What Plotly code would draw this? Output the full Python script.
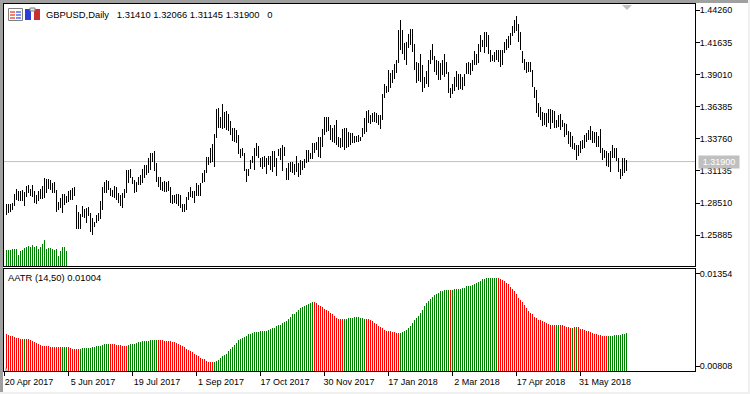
import plotly.graph_objects as go

highs = [
1.2844,1.2844,1.2844,1.2855,1.2926,1.2964,1.2950,1.2950,1.2958,1.2942,
1.2991,1.2996,1.2964,1.2999,1.2950,1.2918,1.2953,1.2964,1.2991,1.3054,
1.3048,1.3048,1.3040,1.3013,1.3026,1.2958,1.2863,1.2890,1.2926,1.2926,
1.2909,1.2950,1.2958,1.2977,1.2986,1.2836,1.2782,1.2763,1.2828,1.2801,
1.2809,1.2822,1.2768,1.2727,1.2700,1.2754,1.2768,1.2871,1.2986,1.3026,
1.3040,1.3035,1.2972,1.2958,1.2991,1.2986,1.2931,1.2918,1.2931,1.2964,
1.3122,1.3122,1.3130,1.3067,1.3040,1.3026,1.3067,1.3081,1.3127,1.3162,
1.3162,1.3217,1.3258,1.3258,1.3277,1.3176,1.3067,1.3062,1.3026,1.3035,
1.3026,1.3035,1.2980,1.2918,1.2918,1.2926,1.2926,1.2918,1.2844,1.2844,
1.2904,1.2945,1.2986,1.2953,1.2953,1.3013,1.2999,1.3013,1.3094,1.3122,
1.3230,1.3230,1.3298,1.3334,1.3413,
1.3620,1.3631,1.3557,1.3661,1.3598,1.3606,1.3579,1.3522,1.3462,1.3467,
1.3448,1.3408,1.3293,1.3304,1.3258,1.3130,1.3130,1.3204,1.3236,1.3299,
1.3340,1.3321,1.3223,1.3231,1.3236,1.3217,1.3236,1.3239,1.3277,1.3280,
1.3223,1.3291,1.3304,1.3326,1.3312,1.3141,1.3176,1.3190,1.3190,1.3171,
1.3236,1.3176,1.3204,1.3198,1.3212,
1.3286,1.3286,1.3264,1.3340,1.3340,1.3348,1.3394,1.3394,1.3457,1.3558,
1.3558,1.3552,1.3490,1.3462,1.3490,1.3530,1.3389,1.3381,1.3457,1.3468,
1.3462,1.3435,1.3422,1.3422,1.3403,1.3403,1.3408,1.3394,1.3462,1.3544,
1.3607,1.3612,1.3571,1.3590,1.3596,1.3590,1.3571,1.3571,1.3746,
1.3822,1.3806,1.3942,1.3915,1.3942,1.3991,1.4023,1.4263,1.4344,1.4263,
1.4159,1.4168,1.4230,1.4276,1.4276,1.4149,1.4004,1.3996,1.4067,1.3977,
1.3882,1.3928,1.4018,1.4105,1.4149,1.4051,1.4018,1.4013,1.3996,1.4018,
1.4072,1.4004,1.3923,1.3795,1.3822,1.3882,1.3928,1.3909,1.3909,1.3882,
1.3909,1.3996,1.4004,1.3996,1.4018,1.4094,1.4072,1.4149,1.4222,1.4181,
1.4249,1.4249,1.4222,1.4100,1.4059,1.4086,1.4100,1.4100,1.4105,1.4105,
1.4168,1.4195,1.4214,1.4241,1.4295,1.4344,1.4380,1.4312,1.4249,1.4094,
1.4032,1.4004,1.4004,1.4004,1.3936,1.3800,1.3779,1.3672,1.3639,1.3598,
1.3590,1.3590,1.3617,1.3620,1.3612,1.3606,1.3530,1.3571,1.3579,1.3530,
1.3503,1.3495,1.3443,1.3435,1.3400,1.3345,1.3326,1.3326,1.3362,1.3367,
1.3408,1.3421,1.3449,1.3481,1.3443,1.3435,1.3435,1.3400,1.3457,1.3299,
1.3285,1.3280,1.3258,1.3277,1.3326,1.3299,1.3304,1.3217,1.3126,1.3217,
1.3217,1.32066,
]
lows = [
1.2754,1.2768,1.2776,1.2795,1.2828,1.2877,1.2871,1.2866,1.2871,1.2828,
1.2904,1.2931,1.2912,1.2904,1.2855,1.2844,1.2871,1.2882,1.2888,1.2890,
1.2931,1.2964,1.2958,1.2931,1.2931,1.2782,1.2795,1.2809,1.2773,1.2836,
1.2855,1.2863,1.2877,1.2877,1.2909,1.2643,1.2643,1.2643,1.2735,1.2727,
1.2686,1.2746,1.2618,1.2591,1.2654,1.2686,1.2708,1.2719,1.2795,1.2931,
1.2931,1.2958,1.2909,1.2904,1.2890,1.2877,1.2855,1.2828,1.2814,1.2890,
1.2931,1.3013,1.3054,1.3007,1.2937,1.2945,1.2999,1.2999,1.3013,1.3054,
1.3081,1.3094,1.3122,1.3184,1.3116,1.3026,1.2986,1.2958,1.2953,1.2945,
1.2939,1.2953,1.2850,1.2844,1.2850,1.2844,1.2828,1.2809,1.2782,1.2782,
1.2795,1.2877,1.2904,1.2890,1.2855,1.2909,1.2912,1.2912,1.3018,1.3026,
1.3100,1.3162,1.3176,1.3190,1.3149,
1.3386,1.3467,1.3462,1.3454,1.3462,1.3448,1.3443,1.3408,1.3361,1.3348,
1.3345,1.3250,1.3217,1.3239,1.3114,1.3027,1.3073,1.3130,1.3182,1.3125,
1.3236,1.3223,1.3147,1.3130,1.3149,1.3092,1.3163,1.3122,1.3108,1.3149,
1.3076,1.3239,1.3204,1.3114,1.3236,1.3040,1.3040,1.3103,1.3095,1.3081,
1.3103,1.3068,1.3081,1.3122,1.3136,
1.3177,1.3190,1.3209,1.3212,1.3258,1.3286,1.3231,1.3223,1.3307,1.3408,
1.3435,1.3443,1.3367,1.3354,1.3340,1.3326,1.3307,1.3299,1.3313,1.3286,
1.3299,1.3307,1.3326,1.3340,1.3340,1.3354,1.3354,1.3362,1.3389,1.3416,
1.3435,1.3503,1.3498,1.3517,1.3517,1.3503,1.3490,1.3457,1.3530,
1.3713,1.3751,1.3760,1.3795,1.3833,1.3868,1.3915,1.3996,1.4100,1.4072,
1.4018,1.3977,1.4121,1.4140,1.4086,1.3942,1.3833,1.3849,1.3841,1.3760,
1.3795,1.3822,1.3800,1.3991,1.4018,1.3923,1.3896,1.3860,1.3855,1.3896,
1.3882,1.3909,1.3751,1.3713,1.3746,1.3768,1.3800,1.3779,1.3787,1.3779,
1.3806,1.3909,1.3909,1.3896,1.3931,1.3977,1.3977,1.3996,1.4086,1.4127,
1.4078,1.4127,1.4067,1.4004,1.4013,1.4004,1.4018,1.4004,1.3964,1.3983,
1.4078,1.4105,1.4121,1.4140,1.4214,1.4241,1.4257,1.4168,1.4100,1.3996,
1.3936,1.3915,1.3923,1.3923,1.3800,1.3713,1.3590,1.3552,1.3530,1.3481,
1.3489,1.3476,1.3503,1.3457,1.3503,1.3462,1.3462,1.3470,1.3449,1.3476,
1.3389,1.3408,1.3334,1.3307,1.3291,1.3285,1.3204,1.3239,1.3258,1.3291,
1.3299,1.3353,1.3367,1.3367,1.3345,1.3340,1.3313,1.3313,1.3258,1.3204,
1.3217,1.3155,1.3149,1.3109,1.3223,1.3217,1.3198,1.3109,1.3051,1.3073,
1.3100,1.31145,
]
tick_volume = [16000,16000,16000,17000,17000,17000,11000,15000,16000,18000,
19000,20000,19000,21000,19000,20000,17000,19000,22000,26000,17000,18000,18000,
17000,16000,17000,10000,15000,19000,19000,15000]

aatr_points = [
996,990,986,984,980,976,974,970,966,966,966,966,963,957,949,943,937,931,929,927,
925,925,923,919,919,919,919,919,919,919,919,919,914,908,908,908,908,910,912,914,
914,916,917,919,923,925,927,929,935,937,937,937,937,937,937,935,933,931,929,927,
925,935,937,937,941,943,947,949,953,955,957,957,961,961,961,961,961,961,961,957,
955,955,953,951,949,945,939,933,927,919,908,902,896,890,880,872,867,857,851,847,
839,833,831,831,833,839,845,855,865,872,882,898,910,921,931,943,961,970,976,982,
988,996,
996,1004,1008,1008,1008,1012,1014,1017,1017,1019,1025,1031,1031,1043,1049,1053,1059,1068,1076,1088,
1098,1112,1117,1127,1141,1151,1159,1162,1168,1174,1182,1184,1184,1178,1166,1162,1155,1147,1139,1133,
1121,1112,1102,1094,1088,1084,1084,1084,1088,1090,1090,1094,1096,1096,1096,1094,1090,1088,1088,1086,
1078,1072,1064,1055,1043,1041,1035,1023,1017,1014,1012,1010,1006,1004,1004,1004,1008,1014,1021,1035,
1047,1062,1078,1094,1106,1121,1137,1161,1182,1192,1204,1215,1225,1235,1241,1251,1253,1255,1255,1255,
1255,1259,1260,1260,1260,1260,1266,1268,1278,1278,1278,1284,1290,1298,1304,1311,1319,1323,1327,1327,
1327,1329,1329,1329,1329,
1323,1317,1309,1298,1290,1276,1264,1251,1235,1211,1198,1186,1168,1153,1133,1121,1112,1098,1090,1082,
1078,1072,1066,1059,1055,1053,1051,1049,1049,1049,1049,1049,1043,1041,1037,1035,1035,1037,1037,1037,
1029,1027,1023,1017,1014,1008,1004,998,996,994,990,988,984,984,984,984,984,990,990,990,
990,996,996,1004,
]
direction_labels = ["down","up","down","up","down","up","down","up","down","up","down","up",
                    "down","up","down","up","down","up","down","up","down","up","down","up"]
run_lengths = [9,1,18,3,6,15,9,15,28,50,15,11,17,25,1,23,29,2,6,1,1,1,15,10]

price_ticks = [1.44260,1.41635,1.39010,1.36385,1.33760,1.31135,1.28510,1.25885]
aatr_ticks = [0.01354,0.00808]
date_tick_index = [-1,31,63,95,127,159,191,223,255,287]
date_labels = ["20 Apr 2017","5 Jun 2017","19 Jul 2017","1 Sep 2017","17 Oct 2017",
               "30 Nov 2017","17 Jan 2018","2 Mar 2018","17 Apr 2018","31 May 2018"]
last_close = 1.31900

assert len(highs) == len(lows) == len(aatr_points), (len(highs), len(lows), len(aatr_points))
assert sum(run_lengths) == len(aatr_points)

FONT = "Liberation Sans"
# A colour with alpha just under 1 keeps plotly from widening 1px bars to 2px.
BLACK = "rgba(0,0,0,0.999)"
GREEN, RED = "rgba(0,128,0,0.999)", "rgba(255,0,0,0.999)"
directions = [d for d, n in zip(direction_labels, run_lengths) for _ in range(n)]
idx = list(range(len(highs)))

L, R, T, B = 4, 695, 4, 371
PW, PH = R - L, B - T
def px(x): return (x - L) / PW
def py(y): return (B - y) / PH

bar_style = dict(width=0.4, offset=0.05)
fig = go.Figure()
fig.add_trace(go.Bar(x=idx[:len(tick_volume)], y=tick_volume, marker=dict(color=GREEN, line_width=0),
                     xaxis="x", yaxis="y3", name="Volume", **bar_style))
fig.add_trace(go.Bar(x=idx, base=lows, y=[h - l for h, l in zip(highs, lows)],
                     marker=dict(color=BLACK, line_width=0), xaxis="x", yaxis="y", name="GBPUSD", **bar_style))
fig.add_trace(go.Bar(x=idx, y=[p * 1e-5 for p in aatr_points],
                     marker=dict(color=[GREEN if d == "up" else RED for d in directions], line_width=0),
                     xaxis="x2", yaxis="y2", name="AATR", **bar_style))

axis_common = dict(showgrid=False, zeroline=False, showline=True, linecolor="#000000", linewidth=1, mirror=True)
def rect(x0, y0, x1, y1, fill, line=None):
    return dict(type="rect", xref="paper", yref="paper", x0=px(x0), x1=px(x1), y0=py(y0), y1=py(y1),
                fillcolor=fill, line=dict(width=1 if line else 0, color=line or fill), layer="above")

shapes = [
    dict(type="line", xref="paper", yref="y", x0=0, x1=1, y0=last_close, y1=last_close,
         line=dict(color="#C0C0C0", width=1), layer="below"),
    rect(0, 0, 750, 3, "#A0A0A0"), rect(0, 0, 3, 394, "#A0A0A0"),
    rect(0, 392, 750, 394, "#F0F0F0"), rect(748, 0, 750, 394, "#F0F0F0"),
    rect(8.5, 8.5, 22.5, 20.5, "#FFFFFF", "#808080"),
    rect(10, 11, 15, 13, "#F08070"), rect(16, 11, 21, 13, "#8090F0"),
    rect(10, 14, 15, 16, "#F08070"), rect(16, 14, 21, 16, "#8090F0"),
    rect(10, 17, 15, 19, "#F08070"), rect(16, 17, 21, 19, "#8090F0"),
    rect(25, 9, 31, 20, "#2A3FD8"), rect(34, 9, 40, 20, "#C83030"),
    rect(30, 8, 35, 11, "#E8E8E8", "#808080"),
    dict(type="path", xref="paper", yref="paper", layer="above", fillcolor="#C0C0C0", line_width=0,
         path=f"M {px(622)} {py(5)} L {px(632)} {py(5)} L {px(627)} {py(10)} Z"),
    dict(type="path", xref="paper", yref="paper", layer="above", fillcolor="#C0C0C0", line_width=0,
         path=f"M {px(5)} {py(367)} L {px(5)} {py(371)} L {px(9)} {py(371)} Z"),
]

def text_at(x, y, s, **kw):
    return dict(xref="paper", yref="paper", x=px(x), y=py(y), text=s, showarrow=False, xanchor="left",
                yanchor="middle", font=dict(family=FONT, size=9.4, color="#000000"), **kw)

annotations = [
    text_at(44, 14.5, "GBPUSD,Daily\u00a0\u00a0\u00a01.31410 1.32066 1.31145 1.31900\u00a0\u00a0\u00a00"),
    text_at(5.5, 278, "AATR (14,50) 0.01004"),
    dict(xref="paper", yref="y", x=px(698), y=last_close, text="1.31900", showarrow=False, xanchor="left",
         yanchor="middle", bgcolor="#C0C0C0", borderpad=1, width=38,
         font=dict(family=FONT, size=9, color="#FFFFFF")),
]

y_ticks = dict(tickmode="array", ticks="outside", ticklen=4, tickwidth=1, tickcolor="#000000",
               ticklabelstandoff=-2)
fig.update_layout(
    width=750, height=394, autosize=False, showlegend=False, barmode="overlay", bargap=0,
    paper_bgcolor="#FFFFFF", plot_bgcolor="#FFFFFF",
    margin=dict(l=L, r=750 - R, t=T, b=394 - B, pad=0),
    font=dict(family=FONT, size=9, color="#000000"),
    xaxis=dict(domain=[0, 1], range=[-1, 344.5], anchor="y", showticklabels=False, ticks="", **axis_common),
    xaxis2=dict(domain=[0, 1], range=[-1, 344.5], anchor="y2", tickmode="array", tickvals=date_tick_index,
                ticktext=date_labels, ticks="outside", ticklen=4, tickwidth=1, tickcolor="#000000",
                tickangle=0, ticklabelshift=25, ticklabelstandoff=-2, **axis_common),
    yaxis=dict(domain=[py(266), 1], range=[1.2337, 1.44775], anchor="x", side="right",
               tickvals=price_ticks, ticktext=[f"{v:.5f}" for v in price_ticks], **y_ticks, **axis_common),
    yaxis2=dict(domain=[0, py(269)], range=[0.00779, 0.01380], anchor="x2", side="right",
                tickvals=aatr_ticks, ticktext=[f"{v:.5f}" for v in aatr_ticks], **y_ticks, **axis_common),
    yaxis3=dict(domain=[py(266), 1], range=[0, 262000], overlaying="y", visible=False, anchor="x"),
    shapes=shapes, annotations=annotations,
)

fig.write_html("out.html", config={"displayModeBar": False},
               post_script="document.body.style.margin='0';document.body.style.overflow='hidden';")
